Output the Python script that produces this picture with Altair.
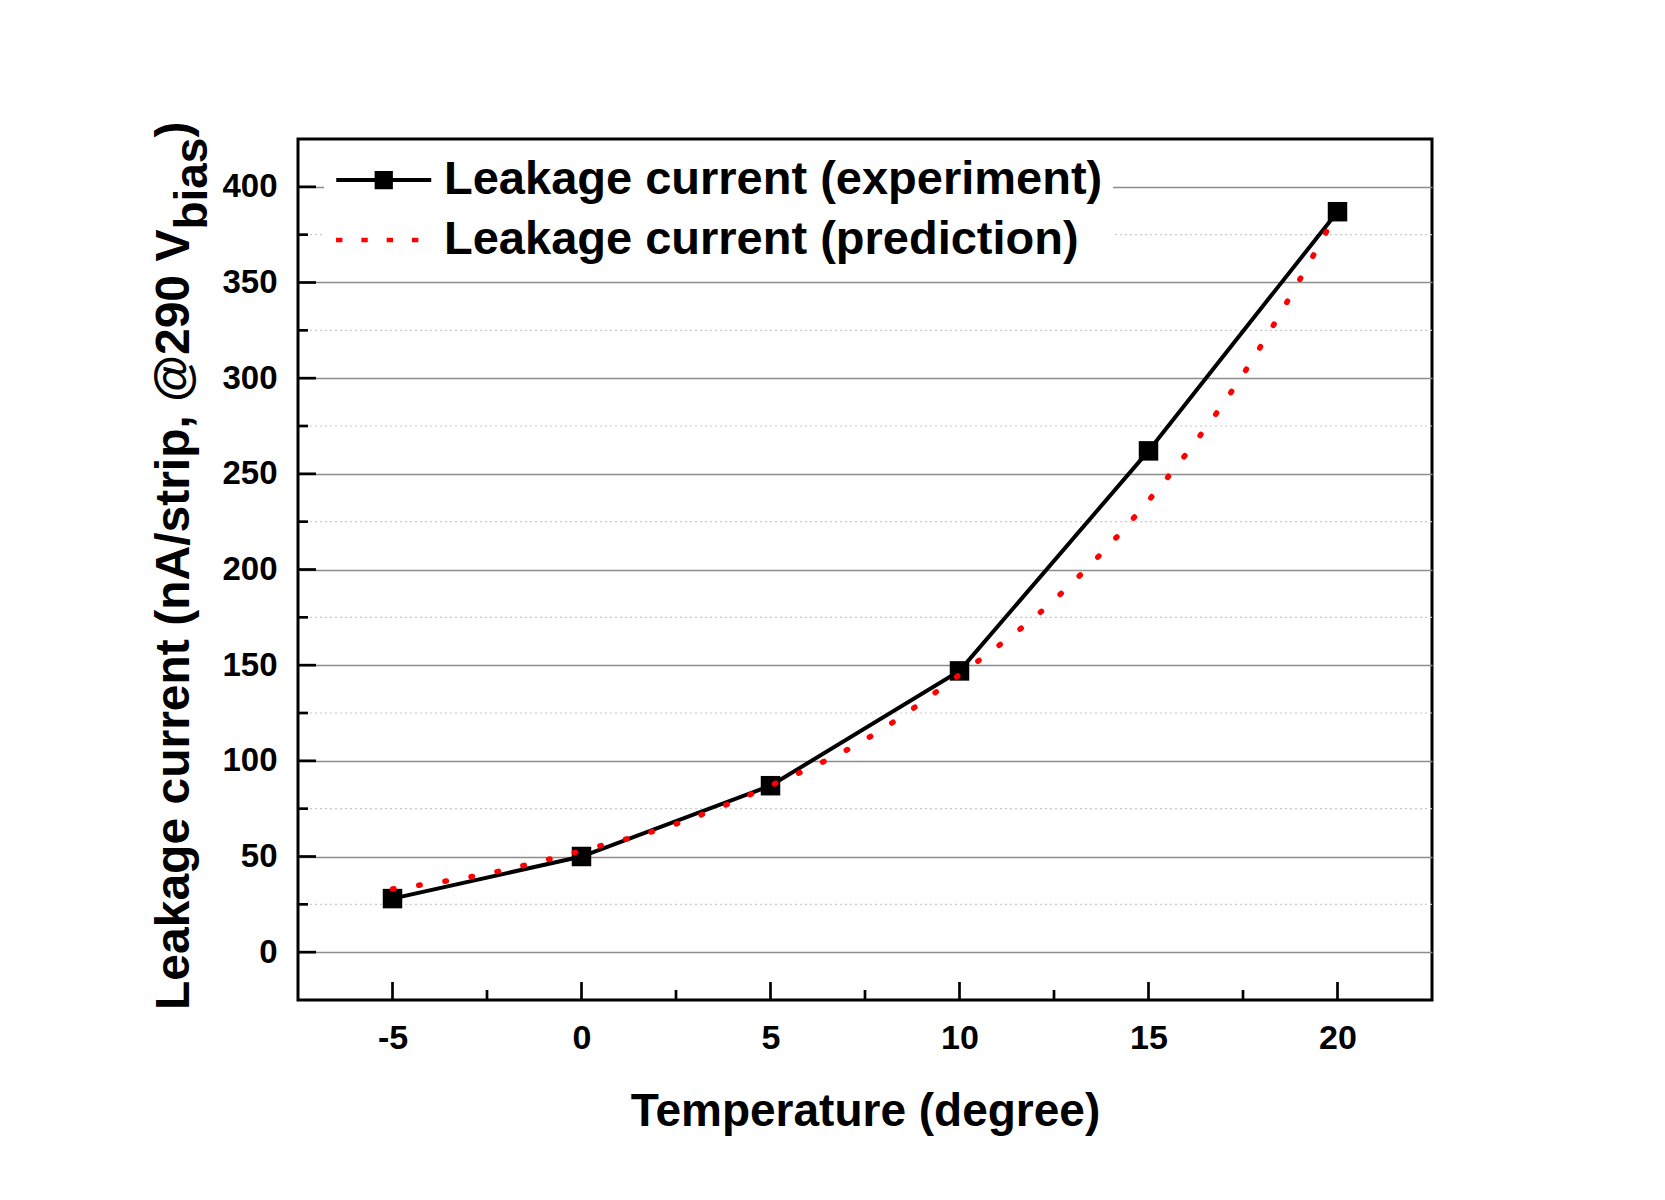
import altair as alt
import pandas as pd

# ---- data ----
exp_temp = [-5, 0, 5, 10, 15, 20]
exp_current = [28, 50, 87, 147, 262, 387]
pred_temp = [-5, -2.5, 0, 2.5, 5, 7.5, 10, 12.5, 15, 17.5, 20]
pred_current = [33, 41, 53, 67, 87, 111, 145, 184, 236, 302, 387]
x_major = [-5, 0, 5, 10, 15, 20]
x_minor = [-2.5, 2.5, 7.5, 12.5, 17.5]
y_major = [0, 50, 100, 150, 200, 250, 300, 350, 400]
y_minor = [25, 75, 125, 175, 225, 275, 325, 375]
EXP = "Leakage current (experiment)"
PRED = "Leakage current (prediction)"

FONT = "Liberation Sans"
W, H = 1134, 861

exp_df = pd.DataFrame({"t": exp_temp, "v": exp_current, "series": EXP})
pred_df = pd.DataFrame({"t": pred_temp, "v": pred_current, "series": PRED})
both_df = pd.concat([exp_df, pred_df], ignore_index=True)

xscale = alt.Scale(domain=[-7.5, 22.5], nice=False, zero=False)
yscale = alt.Scale(domain=[-25, 425], nice=False, zero=False)
xaxis = alt.Axis(values=x_major, title="Temperature (degree)", labelExpr="datum.value + ''",
                 labelFont=FONT, labelFontSize=34, labelFontWeight="bold", labelColor="black",
                 labelPadding=21, ticks=False, domain=False, grid=False, labelFlush=False,
                 labelOverlap=False, titleFont=FONT, titleFontSize=46, titleFontWeight="bold",
                 titleColor="black", titleY=125, titleBaseline="alphabetic")
yaxis = alt.Axis(values=y_major, title=None, labelExpr="datum.value + ''",
                 labelFont=FONT, labelFontSize=33, labelFontWeight="bold", labelColor="black",
                 labelPadding=21, ticks=False, domain=False, grid=True, gridColor="#8c8c8c",
                 gridWidth=1.5, labelFlush=False, labelOverlap=False)
X = alt.X("t:Q", scale=xscale, axis=xaxis)
Y = alt.Y("v:Q", scale=yscale, axis=yaxis)

# legend symbols (unit = half of sqrt(symbolSize)): line with square / row of dots
sym_exp = "M-1,0H3M0.7,-0.3H1.3V0.3H0.7Z"
dots = [-0.874, 0.191, 1.257, 2.322]
sym_pred = "".join("M%.3f,-0.01h0.1v0.02h-0.1Z" % (d - 0.05) for d in dots)

leg = alt.Legend(title=None, orient="none", legendX=26, legendY=5, direction="vertical",
                 fillColor="white", padding=10, labelFont=FONT, labelFontSize=47,
                 labelFontWeight="bold", labelColor="black", labelLimit=2000,
                 symbolStrokeWidth=4, symbolSize=2256, symbolOpacity=1, labelOffset=58,
                 rowPadding=11, zindex=1)
C = alt.Color("series:N", scale=alt.Scale(domain=[EXP, PRED], range=["black", "red"]), legend=leg)
S = alt.Shape("series:N", scale=alt.Scale(domain=[EXP, PRED], range=[sym_exp, sym_pred]), legend=leg)

minor_grid = alt.Chart(pd.DataFrame({"v": y_minor})).mark_rule(
    color="#c8c8c8", strokeWidth=1.2, strokeDash=[2, 3]).encode(y=Y)
exp_line = alt.Chart(exp_df).mark_line(strokeWidth=4).encode(x=X, y=Y, color=C)
squares = alt.Chart(exp_df).mark_square(size=380, color="black", opacity=1).encode(x=X, y=Y)
pred_line = alt.Chart(pred_df).mark_line(strokeWidth=5.5, strokeCap="round", strokeDash=[1.5, 25],
                                         interpolate="monotone").encode(x=X, y=Y, color=C)
legend_keys = alt.Chart(both_df).mark_point(filled=True, size=0, opacity=1).encode(
    x=X, y=Y, color=C, shape=S)
ytk = alt.Chart(pd.DataFrame({"v": y_major})).mark_rule(color="black", strokeWidth=2.7).encode(
    y=Y, x=alt.value(0), x2=alt.value(18))
ytk_m = alt.Chart(pd.DataFrame({"v": y_minor})).mark_rule(color="black", strokeWidth=2.7).encode(
    y=Y, x=alt.value(0), x2=alt.value(10))
xtk = alt.Chart(pd.DataFrame({"t": x_major})).mark_rule(color="black", strokeWidth=2.7).encode(
    x=X, y=alt.value(H), y2=alt.value(H - 18))
xtk_m = alt.Chart(pd.DataFrame({"t": x_minor})).mark_rule(color="black", strokeWidth=2.7).encode(
    x=X, y=alt.value(H), y2=alt.value(H - 10))

one = pd.DataFrame({"k": [0]})
tkw = dict(angle=270, align="left", baseline="alphabetic", font=FONT, fontWeight="bold", color="black")
t_main = alt.Chart(one).mark_text(text="Leakage current (nA/strip, @290 V", fontSize=48, **tkw).encode(
    x=alt.value(-109), y=alt.value(871))
t_sub = alt.Chart(one).mark_text(text="bias", fontSize=46, **tkw).encode(
    x=alt.value(-91.5), y=alt.value(90.6))
t_close = alt.Chart(one).mark_text(text=")", fontSize=48, **tkw).encode(
    x=alt.value(-109), y=alt.value(-1.4))

chart = alt.layer(minor_grid, exp_line, squares, pred_line, legend_keys, ytk, ytk_m, xtk, xtk_m,
                  t_main, t_sub, t_close).properties(
    width=W, height=H, background="white",
    autosize=alt.AutoSizeParams(type="none"),
    padding={"left": 290, "top": 131, "right": 221, "bottom": 185},
).configure_view(stroke="black", strokeWidth=3)

chart.save("out.html", embed_options={"renderer": "svg", "actions": False})
